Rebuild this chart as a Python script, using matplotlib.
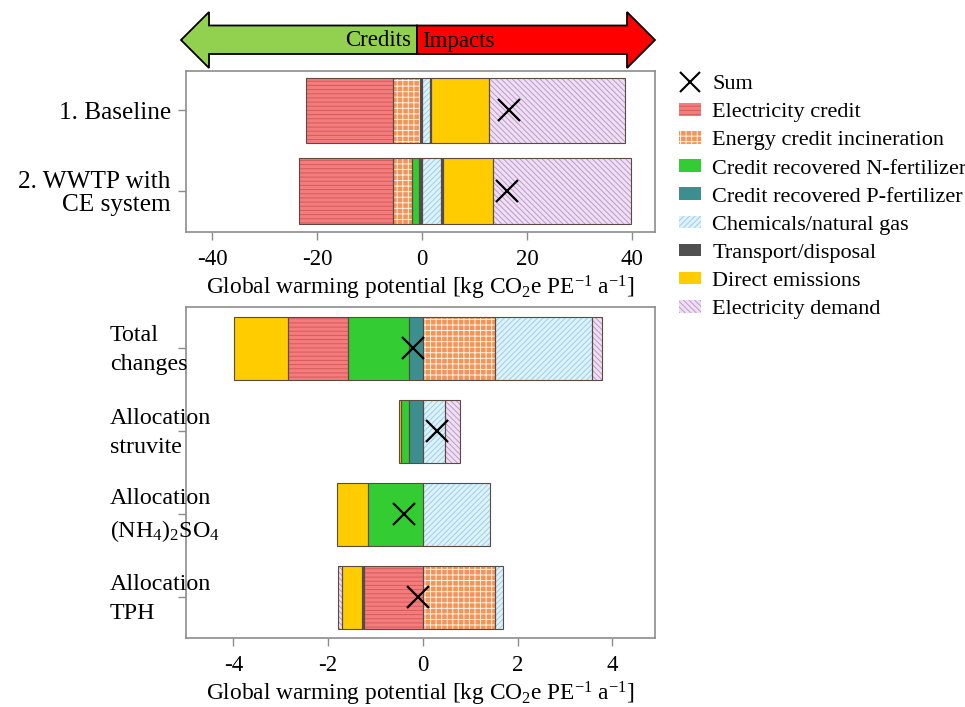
import matplotlib
matplotlib.use('Agg')
import matplotlib.pyplot as plt
from matplotlib.patches import Patch, Polygon
from matplotlib.lines import Line2D

plt.rcParams['font.family'] = ['Liberation Serif', 'DejaVu Serif']
plt.rcParams['font.size'] = 16
plt.rcParams['mathtext.fontset'] = 'custom'
plt.rcParams['mathtext.rm'] = 'Liberation Serif'
plt.rcParams['mathtext.default'] = 'regular'
plt.rcParams['axes.unicode_minus'] = False
plt.rcParams['hatch.linewidth'] = 0.7

# categories in legend order: (key, label, face colour, hatch, hatch colour)
categories = [
    ('elec', 'Electricity credit', '#F47C7C', '----', '#D65A5A'),
    ('energy', 'Energy credit incineration', '#F39558', '+++', '#FFF2E6'),
    ('nfert', 'Credit recovered N-fertilizer', '#33CC33', None, None),
    ('pfert', 'Credit recovered P-fertilizer', '#3D8F8F', None, None),
    ('chem', 'Chemicals/natural gas', '#DDF2FA', '//////', '#9CCFE6'),
    ('transport', 'Transport/disposal', '#505050', None, None),
    ('direct', 'Direct emissions', '#FFCC00', None, None),
    ('demand', 'Electricity demand', '#EEE0F2', '\\\\\\\\\\\\', '#BE98CF'),
]
style = {c[0]: c for c in categories}

# upper panel (segments listed left to right)
top_labels = ['1. Baseline', '2. WWTP with\nCE system']
top_parts = [
    ['elec', 'energy', 'transport', 'chem', 'transport', 'direct', 'demand'],
    ['elec', 'energy', 'nfert', 'transport', 'chem', 'transport', 'direct', 'demand'],
]
top_values = [
    [-16.6, -5.15, -0.45, 1.52, 0.25, 10.97, 25.96],
    [-18.0, -3.55, -1.5, -0.5, 3.67, 0.25, 9.65, 26.25],
]

# lower panel
bottom_labels = ['Total\nchanges', 'Allocation\nstruvite',
                 'Allocation\n(NH$_4$)$_2$SO$_4$', 'Allocation\nTPH']
bottom_parts = [
    ['direct', 'elec', 'nfert', 'pfert', 'energy', 'chem', 'demand'],
    ['direct', 'nfert', 'pfert', 'chem', 'demand'],
    ['direct', 'nfert', 'chem'],
    ['demand', 'direct', 'transport', 'elec', 'energy', 'chem'],
]
bottom_values = [
    [-1.14, -1.27, -1.28, -0.30, 1.53, 2.03, 0.23],
    [-0.04, -0.16, -0.30, 0.47, 0.32],
    [-0.66, -1.15, 1.415],
    [-0.09, -0.42, -0.04, -1.25, 1.52, 0.18],
]

W, H = 965, 707
fig = plt.figure(figsize=(W / 100, H / 100), dpi=100)
frame_col = '#8C8C8C'


def draw_stack(ax, y, parts, vals, height):
    left = sum(v for v in vals if v < 0)
    for key, v in zip(parts, vals):
        _, _, face, hatch, hcol = style[key]
        w = abs(v)
        ax.barh(y, w, left=left, height=height, color=face, edgecolor='none', lw=0, zorder=2)
        if hatch:
            ax.barh(y, w, left=left, height=height, color='none', edgecolor=hcol,
                    hatch=hatch, lw=0, zorder=3)
        ax.barh(y, w, left=left, height=height, color='none', edgecolor='#5a4a40',
                lw=0.8, zorder=4)
        left += w
    ax.plot(sum(vals), y, marker='x', ms=16, mew=1.6, color='black', ls='none', zorder=6)


def style_axes(ax):
    for s in ax.spines.values():
        s.set_color(frame_col)
        s.set_linewidth(1.2)
    ax.tick_params(axis='both', color=frame_col, length=6, width=1.0, labelsize=16.5)
    ax.tick_params(axis='x', pad=6)
    ax.set_xlabel('Global warming potential [kg CO$_2$e PE$^{-1}$ a$^{-1}$]',
                  fontsize=16.8, labelpad=3)


# upper axes
ax1 = fig.add_axes([186 / W, 1 - 232 / H, 469 / W, 161 / H])
for i in range(len(top_labels)):
    draw_stack(ax1, i, top_parts[i], top_values[i], 0.81)
ax1.set_xlim(-45, 44.4)
ax1.set_ylim(1.51, -0.49)
ax1.set_xticks([-40, -20, 0, 20, 40])
ax1.set_yticks(range(len(top_labels)))
ax1.set_yticklabels(top_labels, fontsize=18.2, linespacing=1.05)
style_axes(ax1)
ax1.tick_params(axis='y', pad=5, labelsize=18.2)

# lower axes
ax2 = fig.add_axes([186 / W, 1 - 638 / H, 469 / W, 331 / H])
for i in range(len(bottom_labels)):
    draw_stack(ax2, i, bottom_parts[i], bottom_values[i], 0.76)
ax2.set_xlim(-5.0, 4.9)
ax2.set_ylim(3.49, -0.5)
ax2.set_xticks([-4, -2, 0, 2, 4])
ax2.set_yticks(range(len(bottom_labels)))
ax2.set_yticklabels([])
for i, lab in enumerate(bottom_labels):
    ax2.text(-0.162, i + 0.02, lab, transform=ax2.get_yaxis_transform(), ha='left',
             va='center', fontsize=17.3, linespacing=1.5)
style_axes(ax2)

# credits / impacts arrow
axa = fig.add_axes([0, 0, 1, 1], zorder=-1)
axa.set_xlim(0, W)
axa.set_ylim(H, 0)
axa.axis('off')
mid, yc = 417, 40
green = [(mid, 25.5), (209, 25.5), (209, 12), (181, yc), (209, 68), (209, 54), (mid, 54)]
red = [(mid, 25.5), (627, 25.5), (627, 12), (655, yc), (627, 68), (627, 54), (mid, 54)]
axa.add_patch(Polygon(green, closed=True, fc='#92D050', ec='black', lw=1.3))
axa.add_patch(Polygon(red, closed=True, fc='#FF0000', ec='black', lw=1.3))
axa.text(mid - 6, 41, 'Credits', ha='right', va='center', fontsize=16.5)
axa.text(mid + 5, 41, 'Impacts', ha='left', va='center', fontsize=16.5)

# legend
handles = [Line2D([], [], marker='x', ls='none', color='black', ms=15, mew=1.5)]
labels = ['Sum']
for key, lab, face, hatch, hcol in categories:
    base = Patch(facecolor=face, edgecolor='none')
    if hatch:
        handles.append((base, Patch(facecolor='none', edgecolor=hcol, hatch=hatch, lw=0)))
    else:
        handles.append(base)
    labels.append(lab)
fig.legend(handles, labels, loc='upper left', bbox_to_anchor=(679 / W, 1 - 75 / H),
           frameon=False, borderpad=0, borderaxespad=0, handlelength=1.0,
           handleheight=0.5, handletextpad=0.5, labelspacing=0.4, fontsize=16)

fig.savefig('out.png', dpi=100)
